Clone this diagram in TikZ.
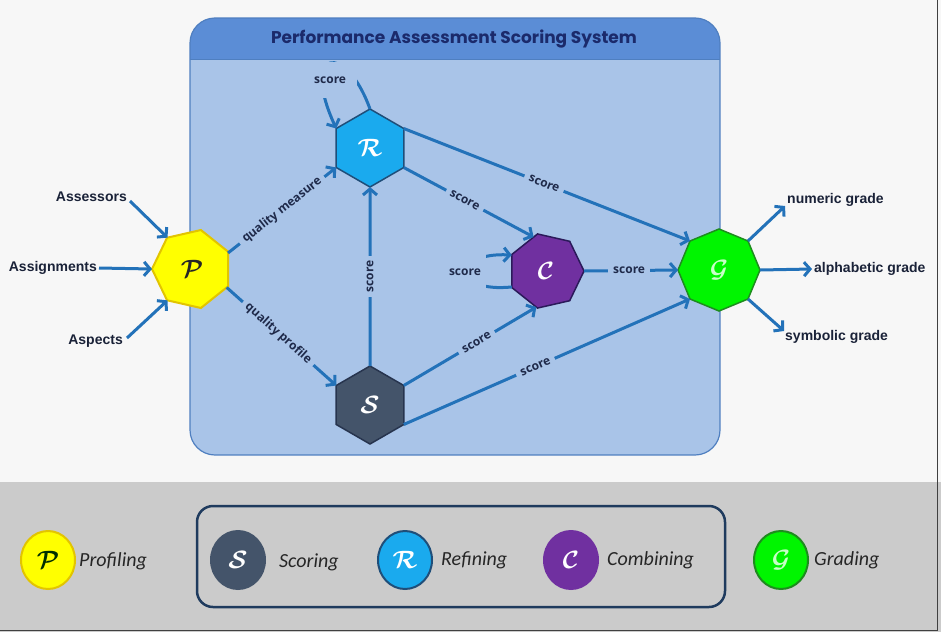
\documentclass[tikz,border=0pt]{standalone}
\usepackage{fontspec}
\usepackage{bm}
\usepackage{graphicx}
\setmainfont{Liberation Sans}
\newfontfamily\carl{Carlito}
\newfontfamily\opsans{Open Sans}
\newfontfamily\ttlfont{Poppins}
\newcommand{\scriptltr}[2][1.45]{\scalebox{#1}{$\bm{\mathcal{#2}}$}}
\usetikzlibrary{shapes.geometric,arrows.meta}
\definecolor{topbg}{HTML}{F7F7F7}
\definecolor{botbg}{HTML}{CBCBCB}
\definecolor{body}{HTML}{A9C4E8}
\definecolor{header}{HTML}{5B8DD6}
\definecolor{boxline}{HTML}{4F7FC0}
\definecolor{titlec}{HTML}{1B2A6B}
\definecolor{arrc}{HTML}{2372B9}
\definecolor{lblc}{HTML}{1F2A4A}
\definecolor{txtc}{HTML}{1A2238}
\definecolor{Pfill}{HTML}{FFFF00}
\definecolor{Pline}{HTML}{E2C400}
\definecolor{Rfill}{HTML}{1AAAEE}
\definecolor{Rline}{HTML}{1F4E79}
\definecolor{Sfill}{HTML}{44546A}
\definecolor{Sline}{HTML}{27344E}
\definecolor{Cfill}{HTML}{7030A0}
\definecolor{Cline}{HTML}{2B1A5A}
\definecolor{Gfill}{HTML}{00F500}
\definecolor{Gline}{HTML}{1E8C1E}
\definecolor{Gtext}{HTML}{C8FFC8}
\definecolor{legline}{HTML}{1F3B5E}
\definecolor{frame}{HTML}{404040}
\tikzset{
  poly/.style={regular polygon, inner sep=0pt, outer sep=0pt, line width=1.5pt, font=\fontsize{17}{17}\selectfont},
  hexa/.style={poly, regular polygon sides=6, shape border rotate=30, minimum size=78pt},
  hepta/.style={poly, regular polygon sides=7},
  octa/.style={poly, regular polygon sides=8, shape border rotate=22.5, minimum size=82pt},
  arr/.style={draw=arrc, line width=3pt, -{Straight Barb[length=6pt,width=14pt]}},
  lbl/.style={font=\opsans\bfseries\fontsize{12}{12}\selectfont, text=lblc, fill=body, inner xsep=5pt, inner ysep=1pt},
  inlbl/.style={font=\bfseries\fontsize{14}{14}\selectfont, text=txtc, inner sep=1pt},
  leg/.style={ellipse, minimum width=54pt, minimum height=58pt, line width=2pt, inner sep=0pt, font=\fontsize{17}{17}\selectfont},
  legtxt/.style={font=\carl\itshape\fontsize{20}{20}\selectfont, text=black!85, inner sep=0pt}
}
\begin{document}
\begin{tikzpicture}[x=1pt,y=-1pt]
\useasboundingbox (0,0) rectangle (941,632);
% backgrounds
\fill[topbg] (0,0) rectangle (941,482);
\fill[botbg] (0,482) rectangle (941,632);
\draw[frame, line width=1.5pt] (937.5,0) -- (937.5,630.5) -- (0,630.5);
% main box
\begin{scope}
  \clip[rounded corners=25pt] (190,18) rectangle (720,455);
  \fill[body] (190,18) rectangle (720,455);
  \fill[header] (190,18) rectangle (720,59);
  \draw[boxline, line width=1pt] (190,59) -- (720,59);
\end{scope}
\draw[boxline, line width=1.2pt, rounded corners=25pt] (190,18) rectangle (720,455);
\node[font=\ttlfont\bfseries\fontsize{17}{19}\selectfont, text=titlec] (title) at (454,39) {Performance Assessment Scoring System};

% process nodes
\node[hepta, minimum size=80pt, shape border rotate=90, fill=Pfill, draw=Pline, line width=2pt, text=black!85] (P) at (192,269) {\scriptltr{P}};
\node[hexa, fill=Rfill, draw=Rline, text=white] (R) at (370,148) {\scriptltr{R}};
\node[hexa, fill=Sfill, draw=Sline, text=white] (S) at (370,405) {\scriptltr{S}};
\node[hepta, minimum size=76pt, shape border rotate=-90, fill=Cfill, draw=Cline, text=white] (C) at (546,271) {\scriptltr{C}};
\node[octa, fill=Gfill, draw=Gline, text=Gtext] (G) at (719,270) {\scriptltr{G}};

% inputs
\node[inlbl, anchor=east] (assessors) at (128,197) {Assessors};
\node[inlbl, anchor=east] (assign) at (98,268) {Assignments};
\node[inlbl, anchor=east] (aspects) at (124,341) {Aspects};
\draw[arr] ([xshift=2pt,yshift=-4pt]assessors.east) -- (P.128);
\draw[arr] ([xshift=1pt]assign.east) -- (P.west);
\draw[arr] ([xshift=3pt,yshift=3pt]aspects.east) -- (P.232);

% outputs
\node[inlbl, anchor=west] (num) at (786,200) {numeric grade};
\node[inlbl, anchor=west] (alpha) at (813,269) {alphabetic grade};
\node[inlbl, anchor=west] (sym) at (784,337) {symbolic grade};
\draw[arr] (G.45) -- ([xshift=-1pt,yshift=-6pt]num.west);
\draw[arr] (G.east) -- ([xshift=-1pt]alpha.west);
\draw[arr] (G.-45) -- ([xshift=0pt,yshift=6pt]sym.west);

% internal edges
\draw[arr] (P.24) -- node[lbl, sloped, pos=0.5] {quality measure} (R.210);
\draw[arr] (P.-28) -- node[lbl, sloped, pos=0.47] {quality profile} (S.150);
\draw[arr] (S.north) -- node[lbl, sloped, pos=0.5] {score} (R.south);
\draw[arr] (R.-30) -- node[lbl, sloped, pos=0.47] {score} (C.110);
\draw[arr] (R.30) -- node[lbl, sloped, pos=0.49] {score} (G.135);
\draw[arr] (C.east) -- node[lbl, pos=0.48] {score} (G.west);
\draw[arr] (S.30) -- node[lbl, sloped, pos=0.55] {score} (C.-105);
\draw[arr] (S.-30) -- node[lbl, sloped, pos=0.46] {score} (G.-135);
% self loops
\draw[arr] (C.205) .. controls (452,293) and (452,252) .. node[lbl, pos=0.5, xshift=-2pt, minimum width=38pt, minimum height=40pt] {score} (C.155);
\draw[arr] (R.north) .. controls (345,40) and (300,50) .. node[lbl, pos=0.5, yshift=-17pt, minimum width=54pt, minimum height=36pt] {score} (R.150);

% legend
\draw[legline, line width=2.5pt, rounded corners=16pt] (197,506) rectangle (725,607);
\node[leg, fill=Pfill, draw=Pline, text=black!70!green!60!black] (lP) at (48,560) {\scriptltr{P}};
\node[legtxt, anchor=west] (tP) at (79,561) {Profiling};
\node[leg, fill=Sfill, draw=Sfill, text=white] (lS) at (238,560) {\scriptltr{S}};
\node[legtxt, anchor=west] (tS) at (279,562) {Scoring};
\node[leg, fill=Rfill, draw=Rline, text=white] (lR) at (405,560) {\scriptltr{R}};
\node[legtxt, anchor=west] (tR) at (441,560) {Refining};
\node[leg, fill=Cfill, draw=Cfill, text=white] (lC) at (571,560) {\scriptltr{C}};
\node[legtxt, anchor=west] (tC) at (607,560) {Combining};
\node[leg, fill=Gfill, draw=Gline, text=Gtext] (lG) at (781,560) {\scriptltr{G}};
\node[legtxt, anchor=west] (tG) at (814,560) {Grading};
\end{tikzpicture}
\end{document}
